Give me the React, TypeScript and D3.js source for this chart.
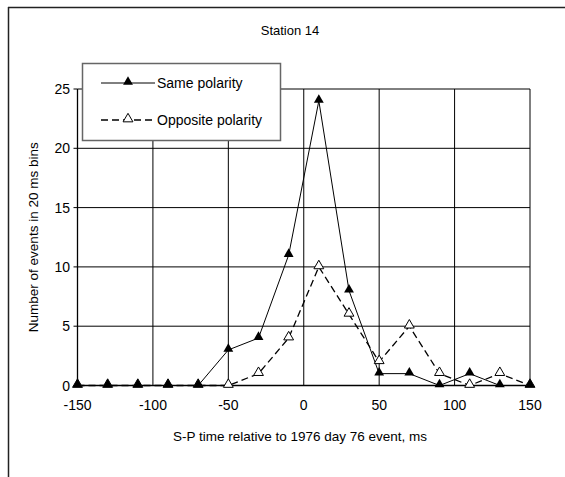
import React, { useEffect, useRef } from "react";
import * as d3 from "d3";

const times = [-150, -130, -110, -90, -70, -50, -30, -10, 10, 30, 50, 70, 90, 110, 130, 150];
const samePolarity = [0, 0, 0, 0, 0, 3, 4, 11, 24, 8, 1, 1, 0, 1, 0, 0];
const oppositePolarity = [0, 0, 0, 0, 0, 0, 1, 4, 10, 6, 2, 5, 1, 0, 1, 0];
const xTicks = [-150, -100, -50, 0, 50, 100, 150];
const yTicks = [0, 5, 10, 15, 20, 25];

const App = () => {
  const svgRef = useRef<SVGSVGElement>(null);

  useEffect(() => {
    const width = 565;
    const height = 477;
    const font = "'Liberation Sans', Arial, sans-serif";

    const svg = d3.select(svgRef.current);
    svg.selectAll("*").remove();
    svg.attr("width", width).attr("height", height);

    // page frame (only top and left edges fall inside the picture)
    svg.append("rect").attr("width", width).attr("height", height).attr("fill", "#fff");
    svg.append("line").attr("x1", 8).attr("x2", width).attr("y1", 7.5).attr("y2", 7.5)
      .attr("stroke", "#222").attr("stroke-width", 1.5);
    svg.append("line").attr("x1", 8.5).attr("x2", 8.5).attr("y1", 7).attr("y2", height)
      .attr("stroke", "#222").attr("stroke-width", 1.5);

    const x = d3.scaleLinear().domain([-150, 150]).range([77.5, 530]);
    const y = d3.scaleLinear().domain([0, 25]).range([385.5, 89]);

    const g = svg.append("g");

    // gridlines
    g.selectAll(".hgrid")
      .data(yTicks.filter((d) => d > 0))
      .join("line")
      .attr("x1", x(-150)).attr("x2", x(150))
      .attr("y1", (d) => y(d)).attr("y2", (d) => y(d))
      .attr("stroke", "#000").attr("stroke-width", 1);
    g.selectAll(".vgrid")
      .data(xTicks.filter((d) => d > -150))
      .join("line")
      .attr("x1", (d) => x(d)).attr("x2", (d) => x(d))
      .attr("y1", y(25)).attr("y2", y(0))
      .attr("stroke", "#000").attr("stroke-width", 1);

    // axes
    g.append("line").attr("x1", x(-150)).attr("x2", x(-150)).attr("y1", y(25)).attr("y2", y(0))
      .attr("stroke", "#000").attr("stroke-width", 1.3);
    g.append("line").attr("x1", x(-150)).attr("x2", x(150)).attr("y1", y(0)).attr("y2", y(0))
      .attr("stroke", "#000").attr("stroke-width", 1.3);
    g.selectAll(".ytick")
      .data(yTicks)
      .join("line")
      .attr("x1", x(-150) - 4).attr("x2", x(-150))
      .attr("y1", (d) => y(d)).attr("y2", (d) => y(d))
      .attr("stroke", "#000");

    g.selectAll(".ylab")
      .data(yTicks)
      .join("text")
      .attr("x", 70).attr("y", (d) => y(d) + 5)
      .attr("text-anchor", "end")
      .attr("font-family", font).attr("font-size", 14)
      .text((d) => d);
    g.selectAll(".xlab")
      .data(xTicks)
      .join("text")
      .attr("x", (d) => x(d)).attr("y", 410)
      .attr("text-anchor", "middle")
      .attr("font-family", font).attr("font-size", 14)
      .text((d) => d);

    svg.append("text").attr("x", 290).attr("y", 35)
      .attr("text-anchor", "middle").attr("font-family", font).attr("font-size", 13)
      .text("Station 14");
    svg.append("text").attr("x", 300).attr("y", 441)
      .attr("text-anchor", "middle").attr("font-family", font).attr("font-size", 13.5)
      .text("S-P time relative to 1976 day 76 event, ms");
    svg.append("text")
      .attr("transform", `translate(38,${(y(0) + y(25)) / 2}) rotate(-90)`)
      .attr("text-anchor", "middle").attr("font-family", font).attr("font-size", 13.5)
      .text("Number of events in 20 ms bins");

    const line = d3.line<number>()
      .x((_, i) => x(times[i]))
      .y((d) => y(d));

    const tri = d3.symbol().type(d3.symbolTriangle).size(42);

    // opposite polarity (dashed, open triangles)
    g.append("path").attr("d", line(oppositePolarity)).attr("fill", "none")
      .attr("stroke", "#000").attr("stroke-width", 1.3).attr("stroke-dasharray", "7,4");
    // same polarity (solid, filled triangles)
    g.append("path").attr("d", line(samePolarity)).attr("fill", "none")
      .attr("stroke", "#000").attr("stroke-width", 1);

    g.selectAll(".opp")
      .data(oppositePolarity)
      .join("path")
      .attr("d", tri)
      .attr("transform", (d, i) => `translate(${x(times[i])},${y(d) - 1})`)
      .attr("fill", "#fff").attr("stroke", "#000").attr("stroke-width", 1);
    g.selectAll(".same")
      .data(samePolarity)
      .join("path")
      .attr("d", tri)
      .attr("transform", (d, i) => `translate(${x(times[i])},${y(d) - 1})`)
      .attr("fill", "#000");

    // legend
    const lg = svg.append("g");
    lg.append("rect").attr("x", 82.5).attr("y", 63.5).attr("width", 198).attr("height", 77)
      .attr("fill", "#fff").attr("stroke", "#666").attr("stroke-width", 1.5);
    const rows = [
      { label: "Same polarity", y: 83, dash: null, fill: "#000", w: 1 },
      { label: "Opposite polarity", y: 120, dash: "7,4", fill: "#fff", w: 1.3 },
    ];
    rows.forEach((r) => {
      lg.append("line").attr("x1", 101).attr("x2", 155).attr("y1", r.y).attr("y2", r.y)
        .attr("stroke", "#000").attr("stroke-width", r.w)
        .attr("stroke-dasharray", r.dash);
      lg.append("path").attr("d", tri).attr("transform", `translate(128,${r.y - 1})`)
        .attr("fill", r.fill).attr("stroke", "#000").attr("stroke-width", r.fill === "#fff" ? 1 : 0);
      lg.append("text").attr("x", 157).attr("y", r.y + 5)
        .attr("font-family", font).attr("font-size", 14).text(r.label);
    });
  }, []);

  return <svg ref={svgRef} style={{ position: "absolute", left: 0, top: 0 }}></svg>;
};

export default App;
